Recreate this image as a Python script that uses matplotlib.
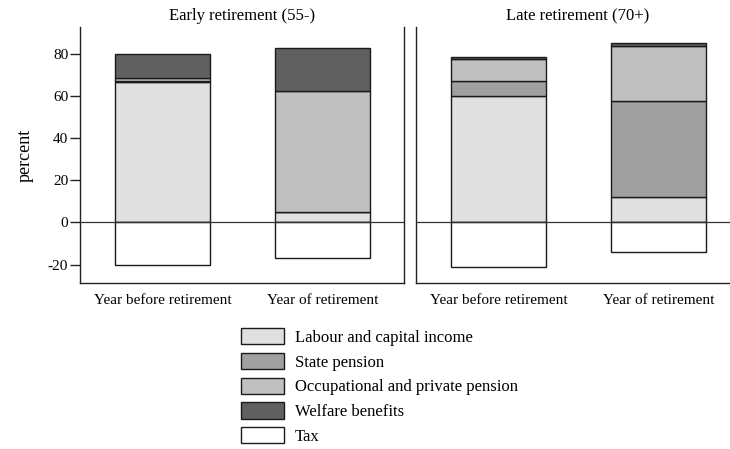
import matplotlib
matplotlib.use("Agg")
import matplotlib.pyplot as plt
import numpy as np

plt.rcParams['font.family'] = ['Liberation Serif', 'DejaVu Serif']
plt.rcParams['axes.unicode_minus'] = False

categories = ["Year before retirement", "Year of retirement"]
panels = ["Early retirement (55-)", "Late retirement (70+)"]
series = ["Labour and capital income", "State pension",
          "Occupational and private pension", "Welfare benefits", "Tax"]

# values per panel: [year before, year of]
labour = [[67.0, 5.0], [60.3, 12.3]]
state_pension = [[0.3, 0.2], [6.8, 45.3]]
occupational = [[1.4, 57.3], [10.8, 26.4]]
welfare = [[11.3, 20.5], [0.8, 1.6]]
tax = [[-20.0, -17.0], [-21.0, -14.0]]

colors = ["#e0e0e0", "#a0a0a0", "#c0c0c0", "#606060", "#ffffff"]
edge = "#1a1a1a"

W, H = 730, 449
fig = plt.figure(figsize=(W / 100, H / 100), dpi=100)

ax_w = 324 / W
ax_h = (283 - 27) / H
bottom = (H - 283) / H
lefts = [80 / W, 416 / W]

x = np.arange(len(categories))
bw = 0.594
handles = None
for i, left in enumerate(lefts):
    ax = fig.add_axes([left, bottom, ax_w, ax_h])
    pos_series = [labour[i], state_pension[i], occupational[i], welfare[i]]
    base = np.zeros(len(categories))
    hs = []
    for vals, c, name in zip(pos_series, colors[:4], series[:4]):
        h = ax.bar(x, vals, bw, bottom=base, color=c, edgecolor=edge,
                   linewidth=1.0, label=name, zorder=2)
        hs.append(h)
        base = base + np.array(vals)
    h = ax.bar(x, tax[i], bw, color=colors[4], edgecolor=edge,
               linewidth=1.0, label=series[4], zorder=2)
    hs.append(h)
    if handles is None:
        handles = hs
    ax.axhline(0, color="#333333", linewidth=0.9, zorder=3)
    ax.set_xlim(-0.515, 1.51)
    ax.set_ylim(-28.8, 93)
    ax.set_xticks(x)
    ax.set_xticklabels(categories, fontsize=11)
    ax.tick_params(axis='x', length=0, pad=8)
    ax.spines['top'].set_visible(False)
    for s in ['left', 'bottom', 'right']:
        ax.spines[s].set_color("#222222")
        ax.spines[s].set_linewidth(1.0)
    ax.set_title(panels[i], fontsize=12, pad=5)
    if i == 0:
        ax.set_yticks([-20, 0, 20, 40, 60, 80])
        ax.tick_params(axis='y', labelsize=11, length=7, width=1.0,
                       color="#222222", pad=1.5)
        ax.set_ylabel("percent", fontsize=13, labelpad=10)
    else:
        ax.set_yticks([])

leg = fig.legend(handles, series, loc="upper left",
                 bbox_to_anchor=(241 / W, 1 - 328 / H),
                 frameon=False, fontsize=12, handlelength=2.58,
                 handleheight=1.12, handletextpad=0.64, labelspacing=0.42,
                 borderpad=0.0, borderaxespad=0.0)

fig.savefig("out.png", dpi=100)
